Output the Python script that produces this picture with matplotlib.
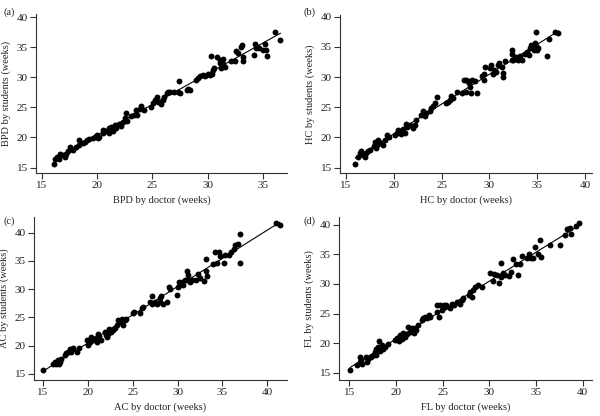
import matplotlib
matplotlib.use("Agg")
import matplotlib.pyplot as plt
import numpy as np

plt.rcParams['font.family'] = ['Liberation Serif', 'DejaVu Serif']

# (a) BPD
bpd_doc = [16.1, 16.2, 16.4, 16.6, 16.5, 16.9, 17.1, 17.2, 17.4, 17.5, 17.6, 17.8, 18.1, 18.4, 18.4,
           18.7, 18.9, 19.1, 19.3, 19.6, 19.9, 20.0, 20.1, 20.2, 20.5, 20.5, 20.8, 21.1, 21.1, 21.3,
           21.4, 21.6, 21.7, 22.0, 22.2, 22.3, 22.5, 22.6, 22.7, 23.1, 23.3, 23.5, 23.6, 23.9, 24.0,
           24.2, 24.9, 25.1, 25.2, 25.4, 25.5, 25.8, 26.0, 26.1, 26.3, 26.4, 26.6, 27.0, 27.3, 27.4,
           27.5, 28.1, 28.2, 28.4, 29.0, 29.1, 29.3, 29.6, 29.8, 30.0, 30.2, 30.3, 30.4, 30.5, 30.6,
           30.9, 31.1, 31.1, 31.2, 31.4, 31.4, 31.6, 32.1, 32.5, 32.6, 32.8, 33.0, 33.1, 33.2, 33.2,
           34.2, 34.4, 34.3, 34.5, 34.7, 35.0, 35.2, 35.3, 35.4, 36.1, 36.6]
bpd_stu = [15.6, 16.5, 16.8, 17.3, 16.4, 17.1, 16.8, 17.3, 17.7, 18.5, 18.1, 18.0, 18.5, 19.6, 18.8,
           19.1, 19.3, 19.6, 19.7, 19.9, 20.2, 20.4, 19.9, 20.1, 21.2, 20.7, 21.0, 21.5, 20.8, 21.8,
           21.1, 22.1, 21.5, 22.2, 21.9, 22.6, 23.2, 24.0, 22.8, 23.6, 23.7, 24.6, 23.7, 24.7, 25.3,
           24.6, 25.0, 25.7, 26.3, 26.7, 25.9, 25.6, 26.2, 26.7, 27.4, 27.6, 27.6, 27.5, 27.6, 29.4,
           27.4, 27.8, 28.0, 27.8, 29.6, 29.9, 30.2, 30.4, 30.2, 30.5, 30.4, 33.6, 30.6, 31.2, 31.5,
           33.3, 32.8, 32.3, 31.5, 33.1, 32.2, 31.7, 32.7, 32.7, 34.4, 34.0, 35.1, 35.3, 33.3, 32.7,
           33.7, 34.8, 35.6, 35.1, 34.9, 34.6, 35.6, 34.5, 33.5, 37.5, 36.2]

# (b) HC
hc_doc = [16.0, 16.3, 16.5, 16.6, 16.8, 17.0, 17.1, 17.3, 17.5, 17.9, 18.1, 18.2, 18.3, 18.4, 18.6,
          18.9, 19.1, 19.3, 19.5, 20.1, 20.3, 20.5, 20.6, 20.8, 21.0, 21.2, 21.3, 21.4, 21.7, 22.0,
          22.2, 22.3, 22.9, 23.1, 23.3, 23.4, 23.8, 23.9, 24.1, 24.3, 24.5, 25.5, 25.7, 25.9, 26.0,
          26.2, 26.6, 27.1, 27.3, 27.5, 27.6, 27.8, 27.9, 28.0, 28.1, 28.2, 28.5, 28.7, 29.2, 29.4,
          29.4, 29.5, 30.1, 30.2, 30.4, 30.5, 30.7, 30.9, 31.0, 31.3, 31.4, 31.4, 31.6, 32.3, 32.4,
          32.4, 32.5, 32.7, 32.8, 33.0, 33.2, 33.4, 33.7, 33.9, 34.1, 34.2, 34.3, 34.6, 34.6, 34.8,
          34.9, 34.9, 35.0, 35.1, 36.0, 36.2, 36.8, 37.2]
hc_stu = [15.6, 16.8, 17.4, 17.8, 17.1, 16.8, 17.4, 17.7, 17.9, 18.5, 19.3, 18.2, 18.8, 19.6, 19.1,
          18.8, 19.6, 20.4, 20.1, 20.4, 20.7, 21.2, 21.0, 20.6, 21.4, 20.7, 22.3, 21.8, 22.1, 21.5,
          22.1, 22.9, 23.7, 24.3, 23.5, 24.0, 24.3, 24.8, 25.2, 25.7, 26.7, 25.7, 25.9, 26.2, 26.8,
          26.5, 27.6, 27.4, 29.5, 29.5, 27.6, 29.3, 29.0, 28.3, 27.3, 29.5, 29.3, 27.4, 30.2, 29.5,
          30.5, 31.7, 31.5, 32.0, 30.5, 31.2, 30.9, 32.0, 32.4, 31.6, 30.6, 30.1, 32.6, 32.8, 33.9,
          34.5, 32.8, 33.0, 33.4, 32.8, 33.5, 32.8, 33.9, 34.2, 33.7, 34.8, 35.3, 35.1, 34.5, 35.6,
          37.4, 35.1, 34.5, 34.8, 33.5, 36.4, 37.5, 37.3]

# (c) AC
ac_doc = [15.0, 16.1, 16.3, 16.5, 16.7, 16.8, 16.9, 17.0, 17.4, 17.6, 17.8, 18.0, 18.1, 18.3, 18.8,
          19.0, 19.9, 20.0, 20.2, 20.3, 20.6, 20.9, 21.0, 21.1, 21.3, 21.5, 21.9, 22.0, 22.1, 22.3,
          22.4, 22.6, 22.8, 23.0, 23.2, 23.4, 23.6, 23.8, 23.9, 24.1, 24.3, 25.0, 25.2, 25.8, 26.0,
          26.2, 26.9, 27.1, 27.2, 27.5, 27.7, 28.0, 28.0, 28.2, 28.4, 28.8, 29.0, 29.2, 29.9, 30.1,
          30.2, 30.3, 30.5, 30.6, 30.8, 31.0, 31.1, 31.2, 31.4, 31.6, 32.1, 32.3, 32.5, 32.9, 33.2,
          33.2, 33.3, 34.0, 34.2, 34.4, 34.6, 34.7, 35.2, 35.3, 35.7, 36.0, 36.3, 36.4, 36.7, 37.0,
          37.0, 41.0, 41.4]
ac_stu = [15.6, 16.7, 17.1, 16.8, 17.4, 16.7, 17.1, 17.6, 18.4, 18.6, 18.9, 19.4, 18.9, 19.5, 18.9,
          19.6, 21.0, 20.1, 20.7, 21.5, 21.0, 21.3, 20.7, 22.1, 21.7, 21.0, 22.4, 21.8, 21.5, 22.1,
          23.0, 22.4, 22.7, 23.1, 23.6, 24.5, 24.1, 24.7, 23.6, 24.5, 24.8, 25.7, 25.9, 25.7, 26.6,
          26.9, 27.7, 28.8, 27.3, 27.7, 27.4, 28.4, 27.7, 28.8, 27.4, 27.7, 30.4, 30.1, 29.0, 30.4,
          31.2, 30.7, 31.3, 30.8, 31.6, 31.7, 33.3, 32.5, 31.3, 31.6, 31.7, 32.7, 32.0, 31.4, 35.4,
          33.2, 32.3, 34.5, 36.6, 34.7, 36.6, 35.9, 34.7, 36.0, 36.1, 36.6, 37.2, 37.8, 38.1, 39.7,
          34.7, 41.8, 41.3]

# (d) FL
fl_doc = [15.1, 15.8, 16.1, 16.2, 16.3, 16.4, 16.8, 16.9, 17.0, 17.3, 17.6, 17.8, 17.9, 17.9, 18.1,
          18.2, 18.3, 18.5, 18.6, 18.8, 19.1, 19.9, 20.1, 20.3, 20.4, 20.6, 20.8, 21.0, 21.2, 21.3,
          21.5, 21.7, 21.9, 22.0, 22.2, 22.4, 22.8, 22.9, 23.1, 23.3, 23.5, 23.7, 24.4, 24.4, 24.6,
          24.7, 24.9, 25.1, 25.3, 25.4, 25.8, 26.0, 26.2, 26.5, 26.9, 27.1, 27.2, 27.8, 27.9, 28.1,
          28.3, 28.5, 28.8, 29.2, 30.1, 30.4, 30.5, 30.8, 31.0, 31.2, 31.3, 31.5, 31.7, 32.1, 32.3,
          32.5, 32.9, 33.1, 33.3, 33.5, 34.0, 34.3, 34.5, 34.7, 34.9, 35.2, 35.4, 35.5, 36.5, 37.6,
          38.1, 38.3, 38.6, 38.8, 39.3, 39.6]
fl_stu = [15.5, 16.3, 16.9, 17.6, 17.2, 16.5, 17.6, 16.9, 17.4, 17.7, 18.1, 18.6, 19.1, 18.1, 19.4,
          20.3, 18.7, 19.7, 19.0, 19.4, 19.8, 20.5, 20.9, 20.3, 21.4, 20.8, 21.7, 21.1, 21.5, 22.8,
          21.9, 22.5, 21.7, 22.6, 22.2, 23.0, 23.9, 24.2, 24.5, 24.2, 24.8, 24.5, 25.3, 26.4, 24.5,
          26.4, 25.6, 26.4, 26.2, 26.4, 25.9, 26.7, 26.4, 27.0, 26.7, 27.3, 27.7, 28.1, 28.6, 27.8,
          29.0, 29.5, 29.8, 29.5, 31.8, 30.5, 31.6, 31.5, 30.1, 31.2, 33.6, 31.8, 31.5, 31.4, 32.0,
          34.2, 33.3, 31.5, 33.3, 34.7, 34.3, 35.0, 34.3, 34.4, 36.2, 35.0, 37.5, 34.6, 36.6, 36.6,
          38.3, 39.3, 39.4, 38.5, 39.8, 40.3]

panels = [
    ("(a)", "BPD", bpd_doc, bpd_stu, [15, 20, 25, 30, 35], (14.46, 37.2), (14.1, 40.5)),
    ("(b)", "HC", hc_doc, hc_stu, [15, 20, 25, 30, 35, 40], (14.4, 40.7), (14.1, 40.3)),
    ("(c)", "AC", ac_doc, ac_stu, [15, 20, 25, 30, 35, 40], (14.0, 42.2), (13.9, 42.8)),
    ("(d)", "FL", fl_doc, fl_stu, [15, 20, 25, 30, 35, 40], (13.9, 41.0), (13.8, 41.3)),
]

# axes boxes in pixels: left, top, right, bottom
boxes = [(36, 14, 287, 173), (340, 15, 592, 173), (34, 217, 287, 380), (339, 217, 592, 380)]
tags = [(3, 12), (303, 12), (3, 221), (303, 221)]

W, H = 600, 416
fig = plt.figure(figsize=(6, 4.16), dpi=100)

for (tag, name, xd, yd, xt, xl, yl), (l, t, r, b), (tx, ty) in zip(panels, boxes, tags):
    ax = fig.add_axes([l / W, 1 - b / H, (r - l) / W, (b - t) / H])
    ax.scatter(xd, yd, s=18, color="black", linewidths=0, zorder=3)
    k, c = np.polyfit(xd, yd, 1)
    xx = np.array([min(xd), max(xd)])
    ax.plot(xx, k * xx + c, color="black", linewidth=0.8, zorder=2)
    ax.set_xlim(*xl)
    ax.set_ylim(*yl)
    ax.set_xticks(xt)
    ax.set_yticks([15, 20, 25, 30, 35, 40])
    for s in ["top", "right"]:
        ax.spines[s].set_visible(False)
    for s in ["left", "bottom"]:
        ax.spines[s].set_color("#333333")
        ax.spines[s].set_linewidth(0.8)
    ax.tick_params(direction="out", length=4, width=0.8, color="#333333",
                   labelsize=8, labelcolor="#222222", pad=2)
    ax.set_xlabel(name + " by doctor (weeks)", fontsize=7.5, color="#222222", labelpad=4)
    ax.set_ylabel(name + " by students (weeks)", fontsize=7.5, color="#222222", labelpad=4)
    fig.text(tx / W, 1 - ty / H, tag, fontsize=7.5, color="#222222", va="center", ha="left")

fig.savefig("out.png", dpi=100)
